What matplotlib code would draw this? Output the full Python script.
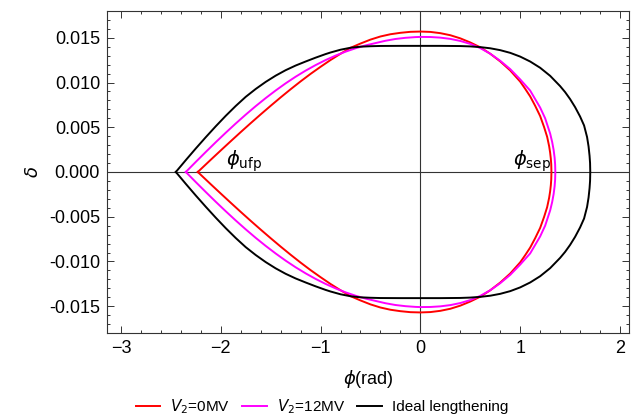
import numpy as np
import matplotlib
matplotlib.use("Agg")
from matplotlib import pyplot as plt
from matplotlib.ticker import MultipleLocator, FormatStrFormatter

plt.rcParams['font.family'] = ['Liberation Sans', 'DejaVu Sans']
plt.rcParams['mathtext.fontset'] = 'dejavusans'

# upper half of each separatrix (phi in rad, delta); the lower half is its mirror image
phi_v0 = [-2.23, -2.1, -2.0, -1.9, -1.8, -1.7, -1.6, -1.5, -1.4, -1.3, -1.2, -1.1,
          -1.0, -0.9, -0.8, -0.7, -0.6, -0.5, -0.4, -0.3, -0.2, -0.1, 0.0,
          0.1, 0.2, 0.3, 0.4, 0.5, 0.6, 0.7, 0.8, 0.9, 1.0, 1.05, 1.1, 1.15, 1.2,
          1.24, 1.27, 1.29, 1.30, 1.307, 1.311, 1.313]
delta_v0 = [0.0, 0.00137, 0.00241, 0.00344, 0.00446, 0.00546, 0.00644, 0.00740,
            0.00834, 0.00925, 0.01013, 0.01097, 0.01176, 0.01252, 0.01322, 0.01388,
            0.01436, 0.01480, 0.01515, 0.01540, 0.01556, 0.01567, 0.0157,
            0.01566, 0.01552, 0.01529, 0.01494, 0.01448, 0.01394, 0.01322, 0.01236,
            0.01135, 0.01010, 0.00930, 0.00845, 0.00740, 0.00625, 0.00500, 0.00393,
            0.00288, 0.00216, 0.00147, 0.00085, 0.0]

phi_v12 = [-2.35, -2.25, -2.15, -2.05, -1.95, -1.85, -1.75, -1.65, -1.55, -1.45,
           -1.35, -1.25, -1.15, -1.05, -0.95, -0.85, -0.75, -0.65, -0.55, -0.45,
           -0.35, -0.25, -0.15, -0.05, 0.0, 0.1, 0.2, 0.3, 0.4, 0.5, 0.6, 0.7, 0.8,
           0.9, 1.0, 1.1, 1.2, 1.25, 1.3, 1.32, 1.335, 1.345, 1.35, 1.352]
delta_v12 = [0.0, 0.00113, 0.00224, 0.00333, 0.00439, 0.00542, 0.00641, 0.00736,
             0.00826, 0.00911, 0.00991, 0.01065, 0.01133, 0.01195, 0.01251, 0.01301,
             0.01345, 0.01383, 0.01415, 0.01441, 0.01467, 0.01487, 0.01500, 0.01508,
             0.0151, 0.01509, 0.01502, 0.01488, 0.01465, 0.01432, 0.01385, 0.01322,
             0.01243, 0.01150, 0.01035, 0.00910, 0.00720, 0.00600, 0.00430, 0.00337,
             0.00246, 0.00158, 0.00084, 0.0]

phi_ideal = [-2.45, -2.35, -2.25, -2.15, -2.05, -1.95, -1.85, -1.75, -1.65, -1.55,
             -1.45, -1.35, -1.25, -1.15, -1.05, -0.95, -0.9, -0.8, -0.7, -0.6, -0.5,
             -0.4, -0.2, 0.0, 0.2, 0.4, 0.5, 0.6, 0.7, 0.8, 0.9, 1.0, 1.1, 1.2, 1.3,
             1.4, 1.45, 1.5, 1.55, 1.6, 1.64, 1.67, 1.685, 1.695, 1.70, 1.702]
delta_ideal = [0.0, 0.00133, 0.00263, 0.00389, 0.00511, 0.00628, 0.00738, 0.00840,
               0.00928, 0.01007, 0.01077, 0.01138, 0.01190, 0.01235, 0.01278, 0.01318,
               0.01336, 0.01367, 0.01389, 0.01401, 0.01406, 0.01409, 0.0141, 0.0141,
               0.0141, 0.01408, 0.01404, 0.01396, 0.01383, 0.01362, 0.01332, 0.01290,
               0.01235, 0.01165, 0.01075, 0.00960, 0.00893, 0.00815, 0.00725, 0.00620,
               0.00520, 0.00390, 0.00285, 0.00180, 0.00100, 0.0]

curves = [
    (phi_v0, delta_v0, '#ff0000', r'$V_2$=0MV'),
    (phi_v12, delta_v12, '#ff00ff', r'$V_2$=12MV'),
    (phi_ideal, delta_ideal, 'black', 'Ideal lengthening'),
]

fig = plt.figure(figsize=(6.44, 4.16), dpi=100)
ax = fig.add_axes([0.1661, 0.1995, 0.8106, 0.7741])

ax.axhline(0, color='#333333', lw=0.8, zorder=1)
ax.axvline(0, color='#333333', lw=0.8, zorder=1)

for phi, delta, col, lab in curves:
    p = np.array(phi)
    d = np.array(delta)
    # upper branch, then back along the mirrored lower branch
    x = np.concatenate([p, p[::-1]])
    y = np.concatenate([d, -d[::-1]])
    ax.plot(x, y, color=col, lw=1.4, label=lab, zorder=3, solid_joinstyle='round')

ax.text(-1.95, -0.0002, r'$\phi_{\rm ufp}$', fontsize=14, ha='left', va='bottom')
ax.text(0.93, -0.0002, r'$\phi_{\rm sep}$', fontsize=14, ha='left', va='bottom')

ax.set_xlim(-3.14, 2.09)
ax.set_ylim(-0.018, 0.018)
ax.xaxis.set_major_locator(MultipleLocator(1))
ax.xaxis.set_minor_locator(MultipleLocator(0.2))
ax.yaxis.set_major_locator(MultipleLocator(0.005))
ax.yaxis.set_minor_locator(MultipleLocator(0.001))
ax.yaxis.set_major_formatter(FormatStrFormatter('%.3f'))
ax.tick_params(which='both', direction='in', top=True, right=True,
               labelsize=13, color='#333333', width=0.7, pad=5)
ax.tick_params(which='major', length=5)
ax.tick_params(which='minor', length=2.5)
for s in ax.spines.values():
    s.set_color('#333333')
    s.set_linewidth(0.8)

ax.set_xlabel(r'$\phi$(rad)', fontsize=13, labelpad=8)
ax.set_ylabel(r'$\delta$', fontsize=13, labelpad=5)

fig.legend(loc='center', bbox_to_anchor=(0.5, 0.022), ncol=3, frameon=False,
           fontsize=11, handlelength=1.6, handletextpad=0.65, columnspacing=0.8)

fig.savefig('out.png', dpi=100)
